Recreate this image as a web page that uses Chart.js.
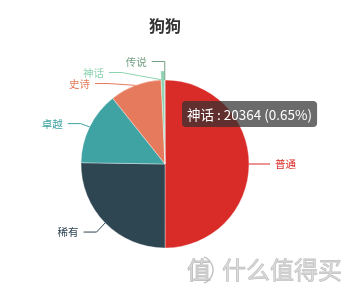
<!DOCTYPE html>
<html>
<head>
<meta charset="utf-8">
<script src="https://cdn.jsdelivr.net/npm/chart.js@4/dist/chart.umd.min.js"></script>
<style>
  html, body { margin: 0; padding: 0; background: #fff; }
  #wrap { width: 351px; height: 295px; }
</style>
</head>
<body>
<div id="wrap"><canvas id="c" width="351" height="295"></canvas></div>
<script>
// Rarity tiers and how many dogs fall into each
const categories = ['普通', '稀有', '卓越', '史诗', '神话', '传说'];
const counts = [1564830, 790412, 439650, 312107, 20364, 2496];
const sliceColors = ['#d92b27', '#2e4652', '#3fa2a3', '#e57b5c', '#8fd3b2', '#749f83'];
const chartTitle = '狗狗';
const highlightedIndex = 4; // tier shown in the hover tooltip

const FONT = '"Noto Sans CJK SC", "Noto Sans", sans-serif';
const PIE_RADIUS = 84;
const EMPHASIS_GROW = 9;
const LINE_LEN1 = 13, LINE_LEN2 = 13, LABEL_GAP = 5, LABEL_H = 11;

// Outside labels with leader lines; overlapping labels on one side are pushed apart
function layoutLabels(meta) {
  const items = meta.data.map((arc, i) => {
    const mid = (arc.startAngle + arc.endAngle) / 2;
    const r = PIE_RADIUS;
    const cx = arc.x, cy = arc.y;
    const dx = Math.cos(mid), dy = Math.sin(mid);
    const dir = dx < 0 ? -1 : 1;
    const x1 = cx + dx * r, y1 = cy + dy * r;
    const x2 = cx + dx * (r + LINE_LEN1), y2 = cy + dy * (r + LINE_LEN1);
    const x3 = x2 + dir * LINE_LEN2;
    return { i, dir, cx, cy, r, x: x3 + dir * LABEL_GAP, y: y2, h: LABEL_H,
             pts: [[x1, y1], [x2, y2], [x3, y2]] };
  });

  function adjustSide(list, dir) {
    if (!list.length) return;
    const cx = list[0].cx, cy = list[0].cy, r = list[0].r;
    list.sort((a, b) => a.y - b.y);
    function shiftUp(end, delta) {
      for (let j = end; j >= 0; j--) {
        list[j].y -= delta;
        if (j > 0 && list[j].y > list[j - 1].y + list[j - 1].h) break;
      }
    }
    function shiftDown(start, end, delta) {
      for (let j = start; j < end; j++) {
        list[j].y += delta;
        if (j > start && j + 1 < end && list[j + 1].y > list[j].y + list[j].h) {
          shiftUp(j, delta / 2);
          return;
        }
      }
      shiftUp(end - 1, delta / 2);
    }
    let lastY = -Infinity;
    for (let i = 0; i < list.length; i++) {
      const d = list[i].y - lastY;
      if (d < 0) shiftDown(i, list.length, -d);
      lastY = list[i].y + list[i].h;
    }
    const up = list.filter(l => l.y < cy), down = list.filter(l => l.y >= cy);
    [[up, false], [down, true]].forEach(([sub, isDown]) => {
      let lastDX = isDown ? Number.MAX_VALUE : 0;
      sub.forEach(l => {
        const dY = Math.abs(l.y - cy);
        const full = r + LINE_LEN1 + LINE_LEN2;
        let dX = dY < r + LINE_LEN1 ? Math.sqrt(full * full - dY * dY) : Math.abs(l.x - cx);
        if (isDown && dX >= lastDX) dX = lastDX - 10;
        if (!isDown && dX <= lastDX) dX = lastDX + 10;
        l.x = cx + dX * dir;
        lastDX = dX;
      });
    });
    list.forEach(l => {
      const dist = l.pts[1][0] - l.pts[2][0];
      l.pts[2][0] = l.x - dir * LABEL_GAP;
      l.pts[1][0] = l.pts[2][0] + dist;
      l.pts[1][1] = l.pts[2][1] = l.y;
    });
  }
  adjustSide(items.filter(l => l.dir < 0), -1);
  adjustSide(items.filter(l => l.dir > 0), 1);
  return items;
}

const piePlugin = {
  id: 'pieDecor',
  afterUpdate(chart) {
    // hovered slice grows outward
    const arc = chart.getDatasetMeta(0).data[highlightedIndex];
    if (arc) arc.outerRadius = PIE_RADIUS + EMPHASIS_GROW;
  },
  afterDatasetsDraw(chart) {
    const ctx = chart.ctx;
    const meta = chart.getDatasetMeta(0);
    const labels = chart.data.labels;
    const colors = chart.data.datasets[0].backgroundColor;
    const items = layoutLabels(meta);
    ctx.save();
    items.forEach(l => {
      const col = colors[l.i];
      ctx.strokeStyle = col;
      ctx.lineWidth = 1;
      ctx.beginPath();
      ctx.moveTo(l.pts[0][0], l.pts[0][1]);
      ctx.lineTo(l.pts[1][0], l.pts[1][1]);
      ctx.lineTo(l.pts[2][0], l.pts[2][1]);
      ctx.stroke();
      ctx.fillStyle = col;
      ctx.font = '10.5px ' + FONT;
      ctx.textBaseline = 'middle';
      ctx.textAlign = l.dir < 0 ? 'right' : 'left';
      ctx.fillText(labels[l.i], l.x, l.y);
    });
    ctx.restore();
  },
  afterDraw(chart) {
    const ctx = chart.ctx;
    const arc = chart.getDatasetMeta(0).data[0];
    const cx = arc.x, cy = arc.y;
    ctx.save();

    // title
    ctx.fillStyle = '#333';
    ctx.font = 'bold 16px ' + FONT;
    ctx.textAlign = 'center';
    ctx.textBaseline = 'middle';
    ctx.fillText(chartTitle, cx, 26);

    // tooltip for the hovered slice
    const data = chart.data.datasets[0].data;
    const total = data.reduce((a, b) => a + b, 0);
    const v = data[highlightedIndex];
    const text = chart.data.labels[highlightedIndex] + ' : ' + v + ' (' + (v / total * 100).toFixed(2) + '%)';
    ctx.font = '13.5px ' + FONT;
    const w = ctx.measureText(text).width + 10;
    const bx = cx + 17, by = cy - 63, bh = 26;
    ctx.fillStyle = 'rgba(50,50,50,0.72)';
    ctx.beginPath();
    ctx.roundRect(bx, by, w, bh, 4);
    ctx.fill();
    ctx.fillStyle = '#fff';
    ctx.textAlign = 'left';
    ctx.textBaseline = 'middle';
    ctx.fillText(text, bx + 5, by + bh / 2 + 0.5);

    // site mark in the lower right corner
    ctx.strokeStyle = 'rgba(190,190,190,0.9)';
    ctx.fillStyle = 'rgba(220,220,220,0.9)';
    ctx.lineWidth = 1;
    ctx.font = '24px ' + FONT;
    ctx.textAlign = 'left';
    ctx.textBaseline = 'middle';
    ctx.fillText('值', 187, 270);
    ctx.strokeText('值', 187, 270);
    ctx.beginPath();
    ctx.arc(199, 270, 14, -Math.PI / 2.6, Math.PI / 2.6);
    ctx.lineWidth = 1.5;
    ctx.stroke();
    ctx.lineWidth = 0.8;
    ctx.fillText('什么值得买', 222, 270);
    ctx.strokeText('什么值得买', 222, 270);
    ctx.restore();
  }
};

new Chart(document.getElementById('c'), {
  type: 'pie',
  data: {
    labels: categories,
    datasets: [{
      data: counts,
      backgroundColor: sliceColors,
      borderColor: 'rgba(255,255,255,0.6)',
      borderWidth: 0.6,
      radius: PIE_RADIUS
    }]
  },
  options: {
    responsive: false,
    devicePixelRatio: 1,
    animation: false,
    events: [],
    layout: { padding: { left: 0, right: 21, top: 33, bottom: 0 } },
    plugins: {
      legend: { display: false },
      tooltip: { enabled: false },
      title: { display: false }
    }
  },
  plugins: [piePlugin]
});
</script>
</body>
</html>
